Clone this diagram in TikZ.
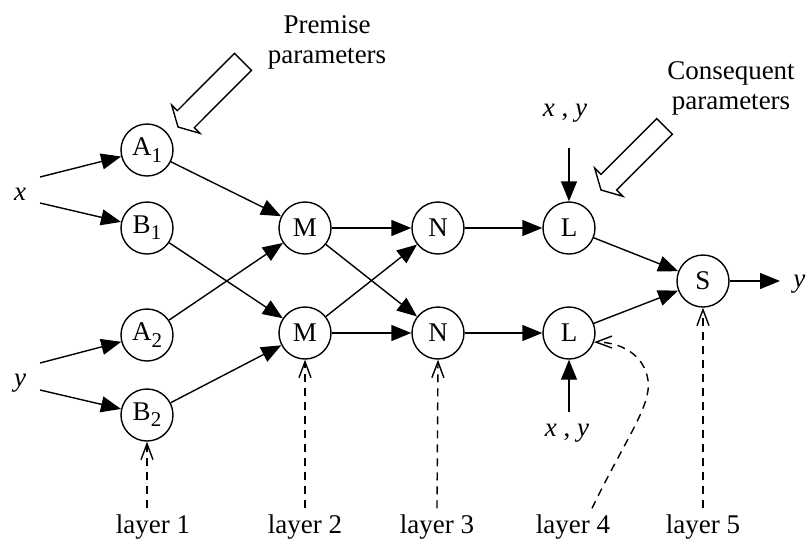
\documentclass[tikz,border=0pt]{standalone}
\usepackage{fontspec}
\setmainfont{Liberation Serif}
\usetikzlibrary{arrows.meta}
\newcommand{\sub}[1]{\raisebox{-0.5ex}{\fontsize{10.5}{10.5}\selectfont #1}}
\begin{document}
\begin{tikzpicture}[x=0.5pt,y=-0.5pt,
  neuron/.style={circle,draw,line width=0.7pt,minimum size=26pt,inner sep=0pt,
    font=\fontsize{13.5}{15}\selectfont},
  link/.style={line width=0.7pt,-{Triangle[length=10pt,width=8pt]}},
  layerlink/.style={line width=0.7pt,dash pattern=on 4pt off 3pt,
    -{Straight Barb[length=8pt,width=6pt]}},
  lbl/.style={font=\fontsize{13.5}{15}\selectfont,inner sep=0pt,align=center},
  hollow/.style={draw,line width=0.7pt,fill=white,line join=miter}]
\useasboundingbox (0,0) rectangle (811,553);

% inputs
\node[lbl] (x) at (20,194) {\textit{x}};
\node[lbl] (y) at (20,383) {\textit{y}};
\coordinate (xa) at (40,177);
\coordinate (xb) at (40,203);
\coordinate (ya) at (40,363);
\coordinate (yb) at (40,390);

% layer 1
\node[neuron] (A1) at (147,150) {A\sub{1}};
\node[neuron] (B1) at (147,228) {B\sub{1}};
\node[neuron] (A2) at (147,335) {A\sub{2}};
\node[neuron] (B2) at (147,415) {B\sub{2}};
% layer 2
\node[neuron] (M1) at (305,228) {M};
\node[neuron] (M2) at (305,333) {M};
% layer 3
\node[neuron] (N1) at (438,228) {N};
\node[neuron] (N2) at (438,333) {N};
% layer 4
\node[neuron] (L1) at (569,228) {L};
\node[neuron] (L2) at (569,333) {L};
% layer 5
\node[neuron] (S) at (703,281) {S};
\coordinate (out) at (780,281);
\node[lbl,anchor=west] (yout) at (793,284) {\textit{y}};

% connections
\draw[link] (xa) -- (A1);
\draw[link] (xb) -- (B1);
\draw[link] (ya) -- (A2);
\draw[link] (yb) -- (B2);
\draw[link] (A1) -- (M1);
\draw[link] (A2) -- (M1);
\draw[link] (B1) -- (M2);
\draw[link] (B2) -- (M2);
\draw[link] (M1) -- (N1);
\draw[link] (M1) -- (N2);
\draw[link] (M2) -- (N1);
\draw[link] (M2) -- (N2);
\draw[link] (N1) -- (L1);
\draw[link] (N2) -- (L2);
\draw[link] (L1) -- (S);
\draw[link] (L2) -- (S);
\draw[link] (S) -- (out);

% x,y inputs of the consequent nodes
\node[lbl] (xyt) at (565,113) {\textit{x} , \textit{y}};
\node[lbl] (xyb) at (567,433) {\textit{x} , \textit{y}};
\coordinate (xyt0) at (569,148);
\coordinate (xyb0) at (569,412);
\draw[link] (xyt0) -- (L1);
\draw[link] (xyb0) -- (L2);

% parameter annotations
\node[lbl] (prem) at (327,42) {Premise\\parameters};
\node[lbl] (cons) at (731,88) {Consequent\\parameters};
\draw[hollow] (178,127) -- (199.9,133.3) -- (194.3,127.7) -- (251.5,70.4)
  -- (234.5,53.4) -- (177.3,110.7) -- (171.7,105.1) -- cycle;
\draw[hollow] (601,190) -- (622.9,196.3) -- (616.6,190.0) -- (672.4,134.2)
  -- (656.8,118.6) -- (601.0,174.4) -- (594.7,168.1) -- cycle;

% layer labels
\node[lbl] (lay1) at (153,527) {layer 1};
\node[lbl] (lay2) at (305,527) {layer 2};
\node[lbl] (lay3) at (437,527) {layer 3};
\node[lbl] (lay4) at (573,527) {layer 4};
\node[lbl] (lay5) at (703,527) {layer 5};
\draw[layerlink] ([xshift=-3pt,yshift=3pt]lay1.north) -- (B2.south);
\draw[layerlink] ([yshift=3pt]lay2.north) -- (M2.south);
\draw[layerlink] ([yshift=3pt]lay3.north) -- (N2.south);
\draw[layerlink] ([xshift=9.5pt,yshift=3pt]lay4.north)
  .. controls (625,440) and (652,405) .. (648,380)
  .. controls (644,354) and (620,342) .. (L2.-20);
\draw[layerlink] ([yshift=3pt]lay5.north) -- (S.south);
\end{tikzpicture}
\end{document}
